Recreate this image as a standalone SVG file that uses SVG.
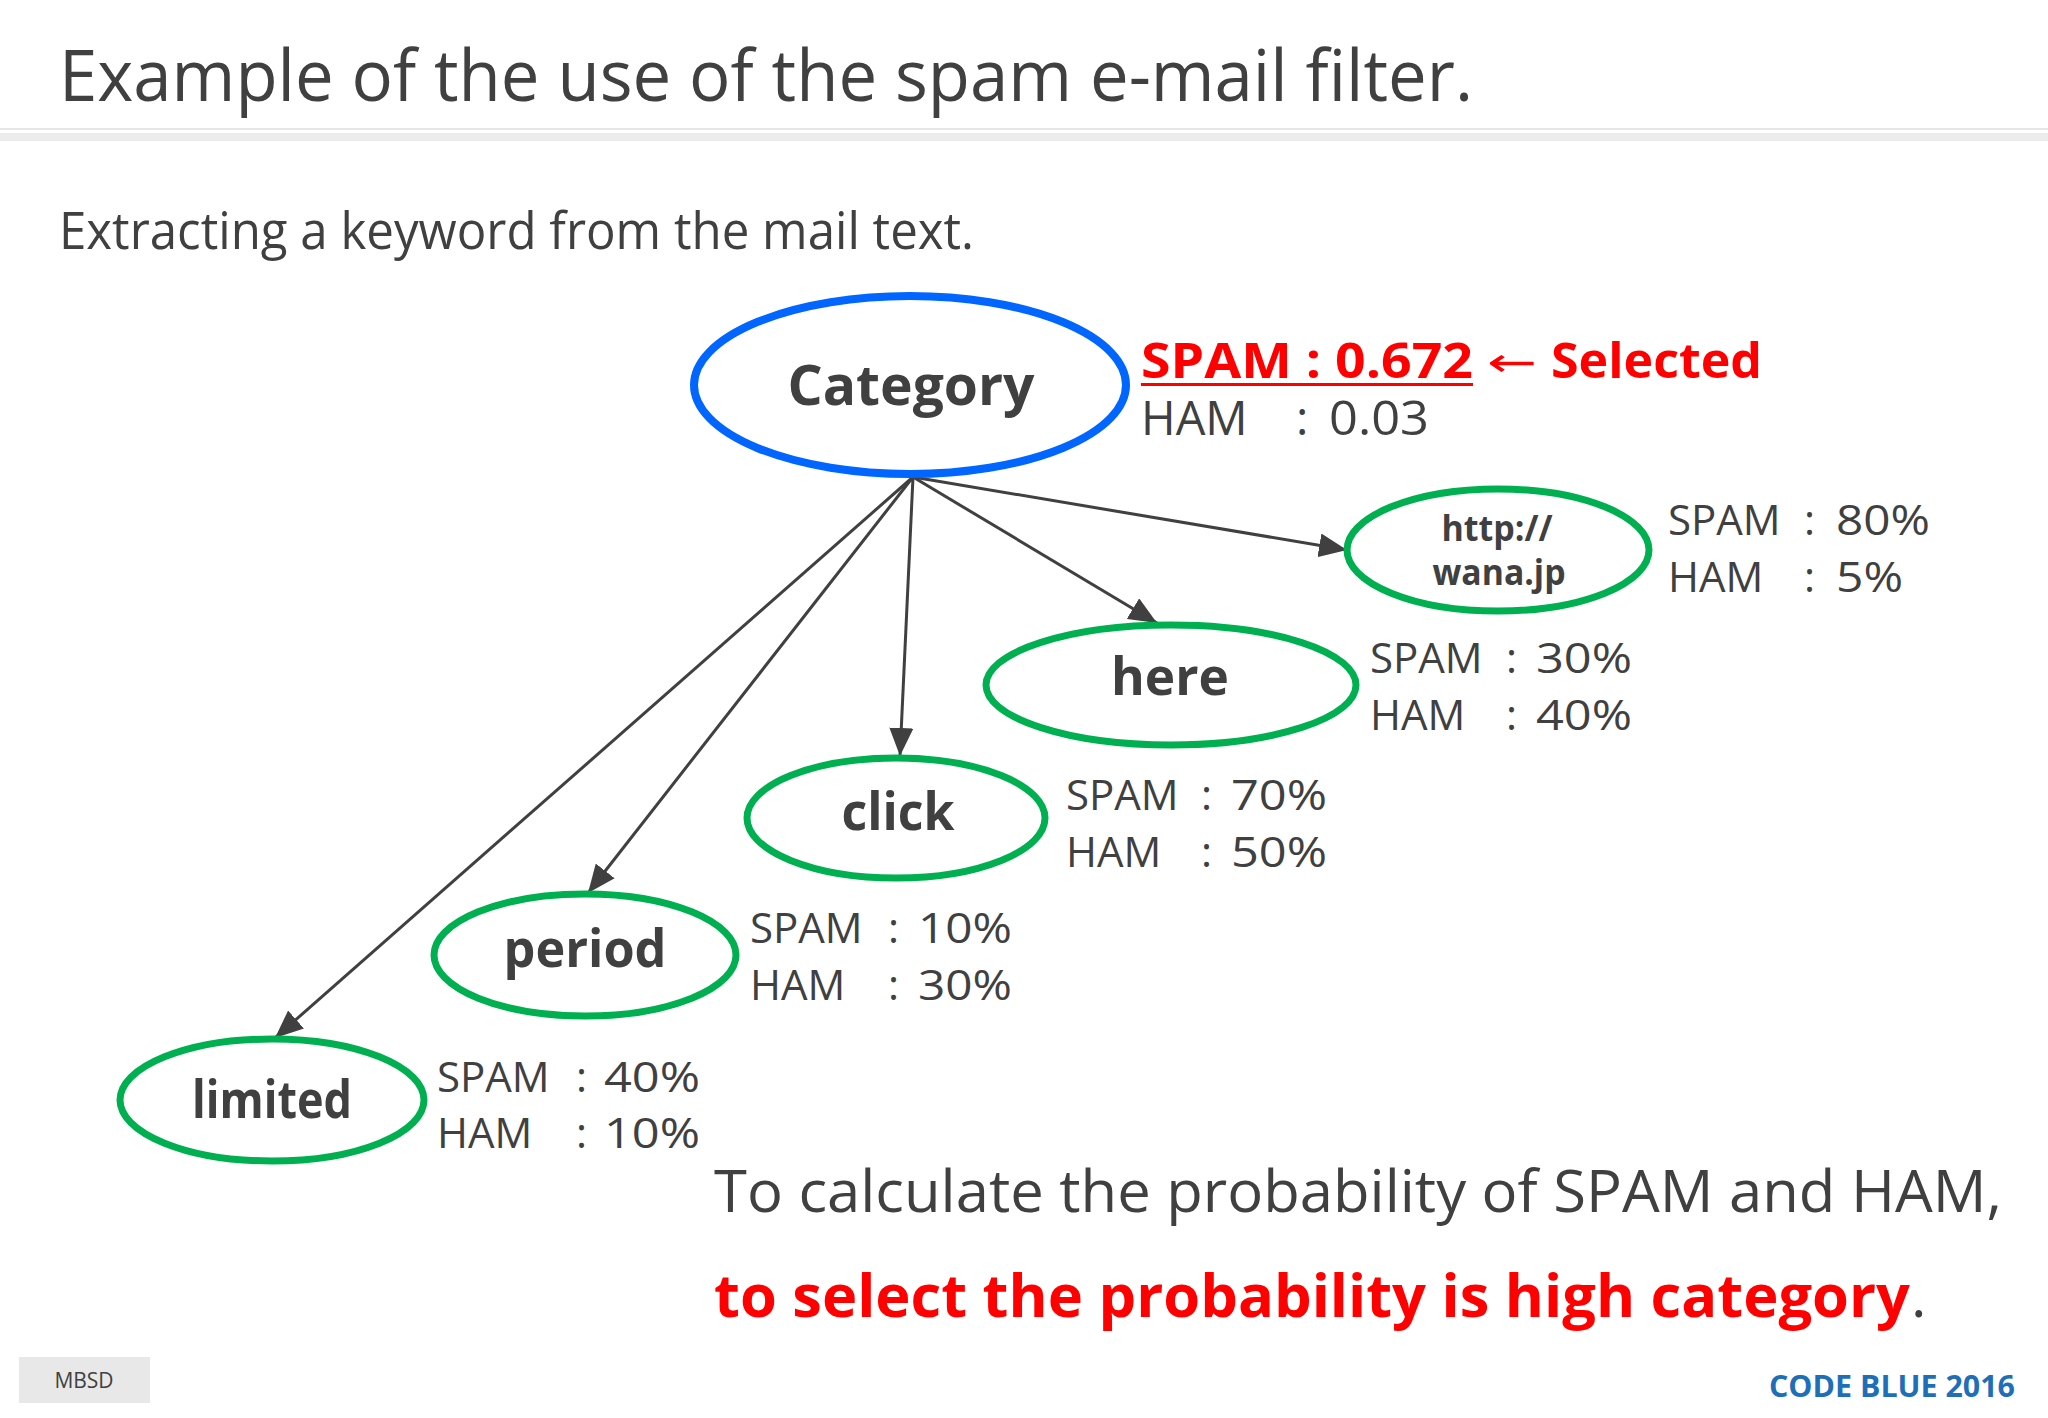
<svg xmlns="http://www.w3.org/2000/svg" width="2048" height="1418" viewBox="0 0 2048 1418">
<defs>
<style>
.t{font-family:"Open Sans","Noto Sans",sans-serif;fill:#404040}
.b{font-family:"Open Sans","Noto Sans",sans-serif;font-weight:bold;fill:#404040}
.lab{font-family:"Open Sans","Noto Sans",sans-serif;font-size:42px;fill:#404040}
.g{fill:#fff;stroke:#00B050;stroke-width:7}
.ln{stroke:#404040;stroke-width:3;fill:none}
</style>
<marker id="ah" markerUnits="userSpaceOnUse" markerWidth="28" markerHeight="24" refX="28" refY="12" orient="auto">
<path d="M0,0 L28,12 L0,24 z" fill="#404040"/>
</marker>
</defs>
<rect width="2048" height="1418" fill="#ffffff"/>
<text class="t" x="59" y="101" font-size="72" textLength="1414" lengthAdjust="spacingAndGlyphs">Example of the use of the spam e-mail filter.</text>
<rect x="0" y="128" width="2048" height="2" fill="#e6e6e6"/>
<rect x="0" y="133" width="2048" height="8" fill="#ececec"/>
<text class="t" x="59" y="249" font-size="51" textLength="915" lengthAdjust="spacingAndGlyphs">Extracting a keyword from the mail text.</text>

<g id="connectors">
<line class="ln" x1="913" y1="477" x2="1347" y2="550" stroke-width="4" marker-end="url(#ah)"/>
<line class="ln" x1="913" y1="477" x2="1157" y2="623" marker-end="url(#ah)"/>
<line class="ln" x1="913" y1="477" x2="900" y2="756" marker-end="url(#ah)"/>
<line class="ln" x1="913" y1="477" x2="588" y2="893" marker-end="url(#ah)"/>
<line class="ln" x1="913" y1="477" x2="275" y2="1038" marker-end="url(#ah)"/>
</g>

<g id="node-category">
<ellipse cx="910" cy="385" rx="216" ry="89" fill="#fff" stroke="#0066FF" stroke-width="8"/>
<text class="b" x="911" y="405" font-size="56" text-anchor="middle" textLength="247" lengthAdjust="spacingAndGlyphs">Category</text>
<text x="1141" y="378" font-family="'Open Sans','Noto Sans',sans-serif" font-weight="bold" font-size="48" fill="#FF0000" textLength="332" lengthAdjust="spacingAndGlyphs">SPAM : 0.672</text>
<rect x="1141" y="383" width="332" height="3" fill="#FF0000"/>
<text x="1487" y="376" font-family="'DejaVu Sans',sans-serif" font-size="40" fill="#FF0000" textLength="50" lengthAdjust="spacingAndGlyphs">←</text>
<text x="1551" y="378" font-family="'Open Sans','Noto Sans',sans-serif" font-weight="bold" font-size="48" fill="#FF0000" textLength="211" lengthAdjust="spacingAndGlyphs">Selected</text>
<text class="t" x="1141" y="435" font-size="47"><tspan>HAM</tspan><tspan x="1296">:</tspan><tspan x="1329" textLength="100" lengthAdjust="spacingAndGlyphs">0.03</tspan></text>
</g>

<g id="node-http">
<ellipse class="g" cx="1498" cy="550" rx="151" ry="61"/>
<text class="b" x="1497" y="541" font-size="36" text-anchor="middle" textLength="111" lengthAdjust="spacingAndGlyphs">http://</text>
<text class="b" x="1499" y="585" font-size="36" text-anchor="middle" textLength="133" lengthAdjust="spacingAndGlyphs">wana.jp</text>
<text class="lab" x="1668" y="535"><tspan>SPAM</tspan><tspan x="1804">:</tspan><tspan x="1836" textLength="94" lengthAdjust="spacingAndGlyphs">80%</tspan></text>
<text class="lab" x="1668" y="592"><tspan>HAM</tspan><tspan x="1804">:</tspan><tspan x="1836" textLength="67" lengthAdjust="spacingAndGlyphs">5%</tspan></text>
</g>

<g id="node-here">
<ellipse class="g" cx="1171" cy="685" rx="185" ry="60"/>
<text class="b" x="1170" y="695" font-size="52" text-anchor="middle" textLength="118" lengthAdjust="spacingAndGlyphs">here</text>
<text class="lab" x="1370" y="673"><tspan>SPAM</tspan><tspan x="1506">:</tspan><tspan x="1536" textLength="96" lengthAdjust="spacingAndGlyphs">30%</tspan></text>
<text class="lab" x="1370" y="730"><tspan>HAM</tspan><tspan x="1506">:</tspan><tspan x="1536" textLength="96" lengthAdjust="spacingAndGlyphs">40%</tspan></text>
</g>

<g id="node-click">
<ellipse class="g" cx="896" cy="818" rx="149" ry="60"/>
<text class="b" x="898" y="830" font-size="52" text-anchor="middle" textLength="113" lengthAdjust="spacingAndGlyphs">click</text>
<text class="lab" x="1066" y="810"><tspan>SPAM</tspan><tspan x="1201">:</tspan><tspan x="1231" textLength="96" lengthAdjust="spacingAndGlyphs">70%</tspan></text>
<text class="lab" x="1066" y="867"><tspan>HAM</tspan><tspan x="1201">:</tspan><tspan x="1231" textLength="96" lengthAdjust="spacingAndGlyphs">50%</tspan></text>
</g>

<g id="node-period">
<ellipse class="g" cx="585" cy="955" rx="151" ry="61"/>
<text class="b" x="585" y="967" font-size="52" text-anchor="middle" textLength="163" lengthAdjust="spacingAndGlyphs">period</text>
<text class="lab" x="750" y="943"><tspan>SPAM</tspan><tspan x="888">:</tspan><tspan x="918" textLength="94" lengthAdjust="spacingAndGlyphs">10%</tspan></text>
<text class="lab" x="750" y="1000"><tspan>HAM</tspan><tspan x="888">:</tspan><tspan x="918" textLength="94" lengthAdjust="spacingAndGlyphs">30%</tspan></text>
</g>

<g id="node-limited">
<ellipse class="g" cx="272" cy="1100" rx="152" ry="61"/>
<text class="b" x="272" y="1118" font-size="52" text-anchor="middle" textLength="160" lengthAdjust="spacingAndGlyphs">limited</text>
<text class="lab" x="437" y="1092"><tspan>SPAM</tspan><tspan x="576">:</tspan><tspan x="604" textLength="96" lengthAdjust="spacingAndGlyphs">40%</tspan></text>
<text class="lab" x="437" y="1148"><tspan>HAM</tspan><tspan x="576">:</tspan><tspan x="604" textLength="96" lengthAdjust="spacingAndGlyphs">10%</tspan></text>
</g>

<text class="t" x="714" y="1212" font-size="59" textLength="1288" lengthAdjust="spacingAndGlyphs">To calculate the probability of SPAM and HAM,</text>
<text x="714" y="1317" font-family="'Open Sans','Noto Sans',sans-serif" font-weight="bold" font-size="59" fill="#FF0000" textLength="1196" lengthAdjust="spacingAndGlyphs">to select the probability is high category</text>
<text class="t" x="1911" y="1317" font-size="59">.</text>

<rect x="19" y="1357" width="131" height="46" fill="#e8e8e8"/>
<text class="t" x="84" y="1388" font-size="21" text-anchor="middle">MBSD</text>
<text x="1769" y="1397" font-family="'Open Sans','Noto Sans',sans-serif" font-weight="bold" font-size="31" fill="#1F6FB8" textLength="246" lengthAdjust="spacingAndGlyphs">CODE BLUE 2016</text>
</svg>
